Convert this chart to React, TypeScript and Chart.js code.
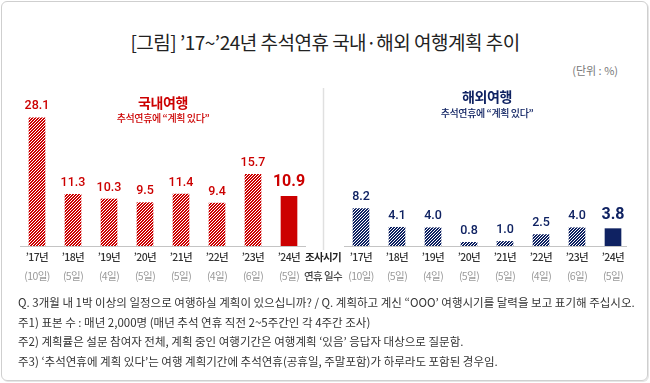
import { useEffect, useRef } from 'react';
import { Chart, registerables } from 'chart.js';
Chart.register(...registerables);

const years = ['’17년', '’18년', '’19년', '’20년', '’21년', '’22년', '’23년', '’24년'];
const holidayDays = ['(10일)', '(5일)', '(4일)', '(5일)', '(5일)', '(4일)', '(6일)', '(5일)'];
const domestic = [28.1, 11.3, 10.3, 9.5, 11.4, 9.4, 15.7, 10.9];
const overseas = [8.2, 4.1, 4.0, 0.8, 1.0, 2.5, 4.0, 3.8];
const midLabels = ['조사시기', '연휴 일수'];
const domesticTitle = ['국내여행', '추석연휴에 “계획 있다”'];
const overseasTitle = ['해외여행', '추석연휴에 “계획 있다”'];
const notes = [
  'Q. 3개월 내 1박 이상의 일정으로 여행하실 계획이 있으십니까? / Q. 계획하고 계신 “OOO’ 여행시기를 달력을 보고 표기해 주십시오.',
  '주1) 표본 수 : 매년 2,000명 (매년 추석 연휴 직전 2~5주간인 각 4주간 조사)',
  '주2) 계획률은 설문 참여자 전체, 계획 중인 여행기간은 여행계획 ‘있음’ 응답자 대상으로 질문함.',
  '주3) ‘추석연휴에 계획 있다’는 여행 계획기간에 추석연휴(공휴일, 주말포함)가 하루라도 포함된 경우임.',
];

const RED = '#cc0000';
const NAVY = '#0f2262';
const FONT = "'Noto Sans CJK KR', 'Noto Sans', sans-serif";

function makePattern(color: string): CanvasPattern | string {
  const s = 3;
  const c = document.createElement('canvas');
  c.width = s;
  c.height = s;
  const g = c.getContext('2d');
  if (!g) return color;
  g.fillStyle = '#ffffff';
  g.fillRect(0, 0, s, s);
  g.fillStyle = color;
  for (let x = 0; x < s; x++) {
    for (let y = 0; y < s; y++) {
      if ((x + y) % s < 2) g.fillRect(x, y, 1, 1);
    }
  }
  const p = g.createPattern(c, 'repeat');
  return p || color;
}

export default function App() {
  const ref = useRef<HTMLCanvasElement>(null);

  useEffect(() => {
    if (!ref.current) return;
    const n = domestic.length;
    const labels = [...years, midLabels[0], ...years];
    const data: (number | null)[] = [...domestic, null, ...overseas];
    const redP = makePattern(RED);
    const navyP = makePattern(NAVY);
    const colors = [
      ...domestic.map((_, i) => (i === n - 1 ? RED : redP)),
      'rgba(0,0,0,0)',
      ...overseas.map((_, i) => (i === n - 1 ? NAVY : navyP)),
    ];

    const decor = {
      id: 'decor',
      afterDatasetsDraw(chart: any) {
        const ctx = chart.ctx;
        const xs = chart.scales.x;
        const ys = chart.scales.y;
        const y0 = ys.getPixelForValue(0);
        ctx.save();
        // baselines
        ctx.strokeStyle = '#c4c4c4';
        ctx.lineWidth = 1;
        ctx.beginPath();
        ctx.moveTo(xs.getPixelForValue(0) - 17, y0 + 0.5);
        ctx.lineTo(xs.getPixelForValue(n - 1) + 17, y0 + 0.5);
        ctx.moveTo(xs.getPixelForValue(n + 1) - 17, y0 + 0.5);
        ctx.lineTo(xs.getPixelForValue(2 * n) + 14, y0 + 0.5);
        ctx.stroke();
        // separator
        const xm = Math.round(xs.getPixelForValue(n)) - 1.5;
        ctx.strokeStyle = '#e0e0e0';
        ctx.lineWidth = 1.5;
        ctx.beginPath();
        ctx.moveTo(xm, 8);
        ctx.lineTo(xm, y0 + 4);
        ctx.stroke();

        // value labels
        const meta = chart.getDatasetMeta(0);
        ctx.textAlign = 'center';
        ctx.textBaseline = 'middle';
        meta.data.forEach((bar: any, i: number) => {
          const v = data[i];
          if (v === null) return;
          const isRight = i > n;
          const isLast = i === n - 1 || i === 2 * n;
          ctx.fillStyle = isRight ? NAVY : RED;
          if (isLast) {
            ctx.font = "bold 16px Roboto, 'Noto Sans', sans-serif";
            ctx.fillText(v.toFixed(1), bar.x, bar.y - 14);
          } else {
            ctx.font = "500 12.5px Roboto, 'Noto Sans', sans-serif";
            ctx.fillText(v.toFixed(1), bar.x, bar.y - 11.5);
          }
        });

        // x labels
        const yl1 = y0 + 11;
        const yl2 = y0 + 30;
        ctx.letterSpacing = '-0.6px';
        for (let i = 0; i < 2 * n + 1; i++) {
          const x = xs.getPixelForValue(i);
          if (i === n) {
            ctx.fillStyle = '#222';
            ctx.font = `bold 10.5px ${FONT}`;
            ctx.fillText(midLabels[0], x - 2, yl1);
            ctx.fillStyle = '#444';
            ctx.font = `500 10.5px ${FONT}`;
            ctx.fillText(midLabels[1], x - 2, yl2);
          } else {
            const k = i < n ? i : i - n - 1;
            ctx.fillStyle = '#333';
            ctx.font = `500 10.5px ${FONT}`;
            ctx.fillText(years[k], x, yl1);
            ctx.fillStyle = '#9a9a9a';
            ctx.font = `10.5px ${FONT}`;
            ctx.fillText(holidayDays[k], x, yl2);
          }
        }

        // series titles
        const lc = (xs.getPixelForValue(0) + xs.getPixelForValue(n - 1)) / 2;
        const rc = (xs.getPixelForValue(n + 1) + xs.getPixelForValue(2 * n)) / 2;
        ctx.letterSpacing = '-0.4px';
        ctx.fillStyle = RED;
        ctx.font = `bold 14px ${FONT}`;
        ctx.fillText(domesticTitle[0], lc, 23);
        ctx.font = `500 10px ${FONT}`;
        ctx.fillText(domesticTitle[1], lc, 38);
        ctx.fillStyle = NAVY;
        ctx.font = `bold 14px ${FONT}`;
        ctx.fillText(overseasTitle[0], rc, 17);
        ctx.font = `500 10px ${FONT}`;
        ctx.fillText(overseasTitle[1], rc, 33);
        ctx.restore();
      },
    };

    const chart = new Chart(ref.current, {
      type: 'bar',
      data: {
        labels,
        datasets: [
          {
            data,
            backgroundColor: colors as any,
            barThickness: 16,
            borderWidth: 0,
          },
        ],
      },
      options: {
        animation: false,
        responsive: false,
        maintainAspectRatio: false,
        layout: { padding: { left: 19, right: 19, top: 20, bottom: 54 } },
        plugins: { legend: { display: false }, tooltip: { enabled: false } },
        scales: {
          x: { display: false, offset: true, grid: { display: false } },
          y: { display: false, min: 0, max: 32 },
        },
      },
      plugins: [decor],
    });
    return () => chart.destroy();
  }, []);

  return (
    <div style={{ position: 'relative', width: 650, height: 383, background: '#fff', fontFamily: FONT, overflow: 'hidden' }}>
      <style>{'body{margin:0;}'}</style>
      <div
        style={{
          position: 'absolute',
          left: 1,
          top: 1,
          width: 647,
          height: 380,
          boxSizing: 'border-box',
          border: '1px solid #cfcfcf',
          borderRadius: 6,
          boxShadow: '1px 1px 0 #e6e6e6',
        }}
      />
      <div
        style={{
          position: 'absolute',
          top: 30,
          left: 0,
          width: 650,
          textAlign: 'center',
          fontSize: 19,
          lineHeight: '24px',
          color: '#222',
          letterSpacing: '-0.5px',
        }}
      >
        [그림] ’17~’24년 추석연휴 국내·해외 여행계획 추이
      </div>
      <div
        style={{
          position: 'absolute',
          top: 63,
          right: 32,
          fontSize: 11,
          lineHeight: '14px',
          color: '#777',
        }}
      >
        (단위 : %)
      </div>
      <canvas ref={ref} width={650} height={220} style={{ position: 'absolute', left: 0, top: 80, width: 650, height: 220 }} />
      <div
        style={{
          position: 'absolute',
          left: 18,
          top: 293,
          fontSize: 11.5,
          lineHeight: '19.7px',
          color: '#333',
          letterSpacing: '0px',
          whiteSpace: 'nowrap',
        }}
      >
        {notes.map((t, i) => (
          <div key={i}>{t}</div>
        ))}
      </div>
    </div>
  );
}
